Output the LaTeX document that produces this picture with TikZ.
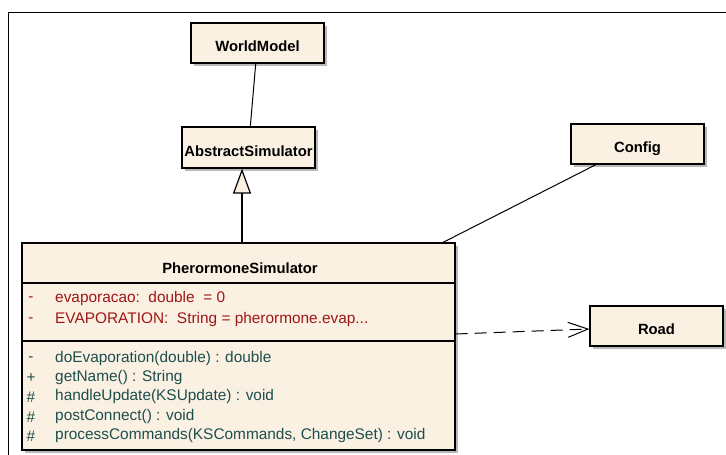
\documentclass[tikz,border=0pt]{standalone}
\usepackage{fontspec}
\setmainfont{Liberation Sans}
\usetikzlibrary{arrows.meta,shadows}
\definecolor{umlfill}{RGB}{251,241,227}
\definecolor{attrred}{RGB}{160,22,22}
\definecolor{opteal}{RGB}{28,78,78}
\newcommand\clsfont{\fontsize{14.8}{17}\selectfont\bfseries}
\tikzset{cls/.style={draw,line width=1.2pt,fill=umlfill,inner sep=0pt,font=\clsfont,
    text height=17.5pt,text depth=0pt,
    drop shadow={shadow xshift=3pt,shadow yshift=-3pt,fill=black!28,opacity=1}},
  member/.style={anchor=west,inner sep=0pt},
  vis/.style={inner sep=0pt}}
\begin{document}
\begin{tikzpicture}[x=1pt,y=-1pt,font=\fontsize{15.4}{18}\selectfont]
\useasboundingbox (0,0) rectangle (726,455);
\draw[line width=.8pt] (8,465)--(8,12)--(735,12);

\node[cls,minimum width=133pt,minimum height=40pt] (wm) at (257.5,43) {WorldModel};
\node[cls,minimum width=133pt,minimum height=41pt] (abs) at (248.5,147.5) {AbstractSimulator};
\node[cls,minimum width=133pt,minimum height=40pt] (cfg) at (637.5,144) {Config};
\node[cls,minimum width=133pt,minimum height=40pt] (road) at (656.5,326) {Road};
\node[cls,minimum width=433pt,minimum height=207pt] (psim) at (238.5,346.5) {};

\draw[line width=1.2pt] (psim.west |- 0,283)--(psim.east |- 0,283);
\draw[line width=1.2pt] (psim.west |- 0,341)--(psim.east |- 0,341);
\node[font=\clsfont] (hdr) at (240,268) {PherormoneSimulator};

\begin{scope}[attrred]
\node[vis] (v1) at (31,299) {-};
\node[member] (a1) at (55,299) {evaporacao:\ \ double\ \ = 0};
\node[vis] (v2) at (31,320) {-};
\node[member] (a2) at (55,320) {EVAPORATION:\ \ String = pherormone.evap...};
\end{scope}

\begin{scope}[opteal]
\foreach \i/\y/\s/\t in {1/359/-/doEvaporation(double) : double,
    2/378/+/getName() : String,
    3/397/\#/handleUpdate(KSUpdate) : void,
    4/417/\#/postConnect() : void,
    5/436/\#/{processCommands(KSCommands, ChangeSet) : void}}
  {\node[vis] (s\i) at (31,\y) {\s};
   \node[member] (op\i) at (55,\y) {\t};}
\end{scope}

\draw[line width=1pt] (wm)--(abs);
\draw[line width=1.2pt,-{Triangle[length=25pt,width=18pt,fill=umlfill]}] (psim.north -| 242,0)--(abs.south -| 242,0);
\draw[line width=1pt] (psim.north -| 443,0)--(cfg.south -| 596,0);
\draw[line width=1pt,dash pattern=on 12pt off 7pt,-{Straight Barb[length=20pt,width=15pt]}]
  (psim.east |- 0,334)--([yshift=-3pt]road.west);
\end{tikzpicture}
\end{document}
